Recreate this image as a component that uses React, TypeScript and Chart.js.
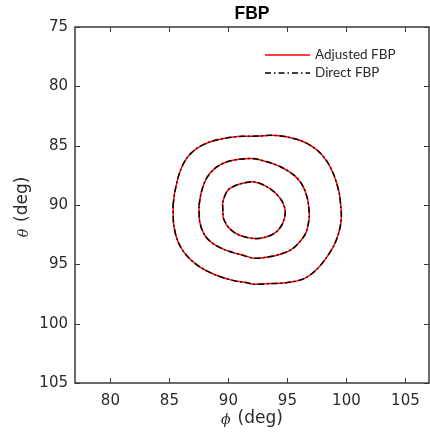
import React, { useEffect, useRef } from "react";
import { Chart, registerables } from "chart.js";

Chart.register(...registerables);

// ---- data ----
const chartTitle = "FBP";
const seriesNames = ["Adjusted FBP", "Direct FBP"];
const phiTicks = [80, 85, 90, 95, 100, 105];
const thetaTicks = [75, 80, 85, 90, 95, 100, 105];
const phiRange = [77, 107];
const thetaRange = [75, 105];

const outerPhi = [85.31, 85.46, 85.88, 86.44, 87.29, 88.41, 89.82, 91.22, 92.63, 93.61, 95.01, 96.42, 97.54, 98.39, 98.95, 99.37, 99.52, 99.57, 99.37, 98.95, 98.25, 97.41, 96.42, 95.01, 93.61, 92.2, 91.5, 90.37, 88.97, 87.57, 86.44, 85.74, 85.37];
const outerTheta = [90.03, 88.9, 87.22, 86.09, 85.25, 84.69, 84.35, 84.21, 84.19, 84.13, 84.27, 84.69, 85.39, 86.38, 87.5, 88.9, 90.03, 91.15, 92.28, 93.4, 94.52, 95.5, 96.2, 96.54, 96.62, 96.68, 96.54, 96.35, 95.92, 95.22, 94.24, 93.12, 91.71];

const middlePhi = [87.51, 87.71, 88.13, 88.83, 89.82, 90.94, 92.2, 93.33, 94.46, 95.58, 96.28, 96.7, 96.84, 96.84, 96.6, 96.05, 95.3, 94.17, 93.05, 92.2, 91.22, 89.82, 88.69, 87.99, 87.57];
const middleTheta = [90.03, 88.9, 87.78, 86.93, 86.38, 86.15, 86.1, 86.38, 86.8, 87.5, 88.34, 89.46, 90.5, 91.15, 92.28, 93.1, 93.78, 94.22, 94.43, 94.49, 94.24, 93.82, 93.25, 92.55, 91.43];

const innerPhi = [89.53, 89.53, 89.95, 90.66, 91.5, 92.2, 93.05, 93.89, 94.59, 94.82, 94.59, 94.04, 93.19, 92.2, 90.94, 90.1, 89.59];
const innerTheta = [90.5, 89.75, 88.76, 88.34, 88.11, 88.06, 88.34, 88.9, 89.75, 90.61, 91.57, 92.28, 92.7, 92.83, 92.55, 91.99, 91.15];

const contours = [
  [outerPhi, outerTheta],
  [middlePhi, middleTheta],
  [innerPhi, innerTheta],
];

// ---- styles ----
const AXIS_COLOR = "#3a3a3a";
const TEXT_COLOR = "#2a2a2a";
const RED = "#ff0000";
const BLACK = "#000000";
const DASH_DOT = [6, 3, 1.5, 3];

function toPoints(xs: number[], ys: number[]) {
  const pts = xs.map((x, i) => ({ x, y: ys[i] }));
  pts.push({ ...pts[0] });
  return pts;
}

const framePlugin = {
  id: "frame",
  afterDraw(chart: any) {
    const { ctx, chartArea } = chart;
    const { left, right, top, bottom } = chartArea;
    const xs = chart.scales.x;
    const ys = chart.scales.y;
    ctx.save();
    // box
    ctx.strokeStyle = AXIS_COLOR;
    ctx.lineWidth = 1.5;
    ctx.setLineDash([]);
    ctx.strokeRect(left, top, right - left, bottom - top);
    // inward ticks
    const tl = 5;
    ctx.lineWidth = 1;
    ctx.beginPath();
    phiTicks.forEach((v) => {
      const px = Math.round(xs.getPixelForValue(v)) + 0.5;
      ctx.moveTo(px, bottom);
      ctx.lineTo(px, bottom - tl);
      ctx.moveTo(px, top);
      ctx.lineTo(px, top + tl);
    });
    thetaTicks.forEach((v) => {
      const py = Math.round(ys.getPixelForValue(v)) + 0.5;
      ctx.moveTo(left, py);
      ctx.lineTo(left + tl, py);
      ctx.moveTo(right, py);
      ctx.lineTo(right - tl, py);
    });
    ctx.stroke();

    // title
    const cx = (left + right) / 2;
    ctx.fillStyle = "#000";
    ctx.font = 'bold 17.5px "Liberation Sans"';
    ctx.textAlign = "center";
    ctx.textBaseline = "middle";
    ctx.fillText(chartTitle, cx, 14);

    // axis titles
    const symFont = 'italic 14px "DejaVu Serif"';
    const restFont = '17px "DejaVu Sans"';
    const gap = 7;
    const drawMathLabel = (sym: string, rest: string, x: number, y: number) => {
      ctx.font = symFont;
      const w1 = ctx.measureText(sym).width;
      ctx.font = restFont;
      const w2 = ctx.measureText(rest).width;
      const start = x - (w1 + gap + w2) / 2;
      ctx.textAlign = "left";
      ctx.font = symFont;
      ctx.fillText(sym, start, y + 1);
      ctx.font = restFont;
      ctx.fillText(rest, start + w1 + gap, y);
    };
    ctx.fillStyle = TEXT_COLOR;
    ctx.textBaseline = "middle";
    drawMathLabel("\u03D5", "(deg)", cx, 419);
    ctx.save();
    ctx.translate(23, 207);
    ctx.rotate(-Math.PI / 2);
    drawMathLabel("\u03B8", "(deg)", 0, 0);
    ctx.restore();

    // legend
    const lx0 = 265;
    const lx1 = 310;
    const rows = [
      { y: 55, color: RED, dash: [] as number[], text: seriesNames[0] },
      { y: 73, color: BLACK, dash: DASH_DOT, text: seriesNames[1] },
    ];
    rows.forEach((r) => {
      ctx.strokeStyle = r.color;
      ctx.lineWidth = 1.5;
      ctx.setLineDash(r.dash);
      ctx.beginPath();
      ctx.moveTo(lx0, r.y);
      ctx.lineTo(lx1, r.y);
      ctx.stroke();
      ctx.setLineDash([]);
      ctx.fillStyle = TEXT_COLOR;
      ctx.font = '13.5px Lato';
      ctx.textAlign = "left";
      ctx.textBaseline = "middle";
      ctx.fillText(r.text, 315, r.y);
    });
    ctx.restore();
  },
};

export default function App() {
  const ref = useRef<HTMLCanvasElement | null>(null);

  useEffect(() => {
    if (!ref.current) return;
    const datasets: any[] = [];
    contours.forEach(([xs, ys]) => {
      const pts = toPoints(xs, ys);
      datasets.push({
        label: seriesNames[0],
        data: pts,
        showLine: true,
        borderColor: RED,
        backgroundColor: RED,
        borderWidth: 1.5,
        pointRadius: 0,
        tension: 0.3,
        order: 1,
      });
      datasets.push({
        label: seriesNames[1],
        data: pts.map((p) => ({ ...p })),
        showLine: true,
        borderColor: BLACK,
        backgroundColor: BLACK,
        borderWidth: 1.5,
        borderDash: DASH_DOT,
        pointRadius: 0,
        tension: 0.3,
        order: 0,
      });
    });

    const tickFont = { family: "DejaVu Sans", size: 15 };
    const chart = new Chart(ref.current, {
      type: "scatter",
      data: { datasets },
      plugins: [framePlugin],
      options: {
        animation: false,
        responsive: false,
        maintainAspectRatio: false,
        layout: { padding: { top: 27, right: 1, left: 0, bottom: 0 } },
        plugins: {
          legend: { display: false },
          title: { display: false },
          tooltip: { enabled: false },
        },
        scales: {
          x: {
            type: "linear",
            min: phiRange[0],
            max: phiRange[1],
            afterBuildTicks: (s: any) => {
              s.ticks = phiTicks.map((v) => ({ value: v }));
            },
            afterFit: (s: any) => {
              s.height = 52;
            },
            grid: { display: true, drawOnChartArea: false, drawTicks: false, color: "rgba(0,0,0,0)" },
            border: { display: false },
            ticks: { font: tickFont, color: TEXT_COLOR, padding: 9, maxRotation: 0, autoSkip: false },
          },
          y: {
            type: "linear",
            reverse: true,
            min: thetaRange[0],
            max: thetaRange[1],
            afterBuildTicks: (s: any) => {
              s.ticks = thetaTicks.map((v) => ({ value: v }));
            },
            afterFit: (s: any) => {
              s.width = 75;
            },
            grid: { display: true, drawOnChartArea: false, drawTicks: false, color: "rgba(0,0,0,0)" },
            border: { display: false },
            ticks: { font: tickFont, color: TEXT_COLOR, padding: 7, autoSkip: false },
          },
        },
      } as any,
    });
    return () => chart.destroy();
  }, []);

  return (
    <div style={{ position: "absolute", left: 0, top: 0, width: 430, height: 435, background: "#fff" }}>
      <canvas ref={ref} width={430} height={435} style={{ display: "block" }} />
    </div>
  );
}
